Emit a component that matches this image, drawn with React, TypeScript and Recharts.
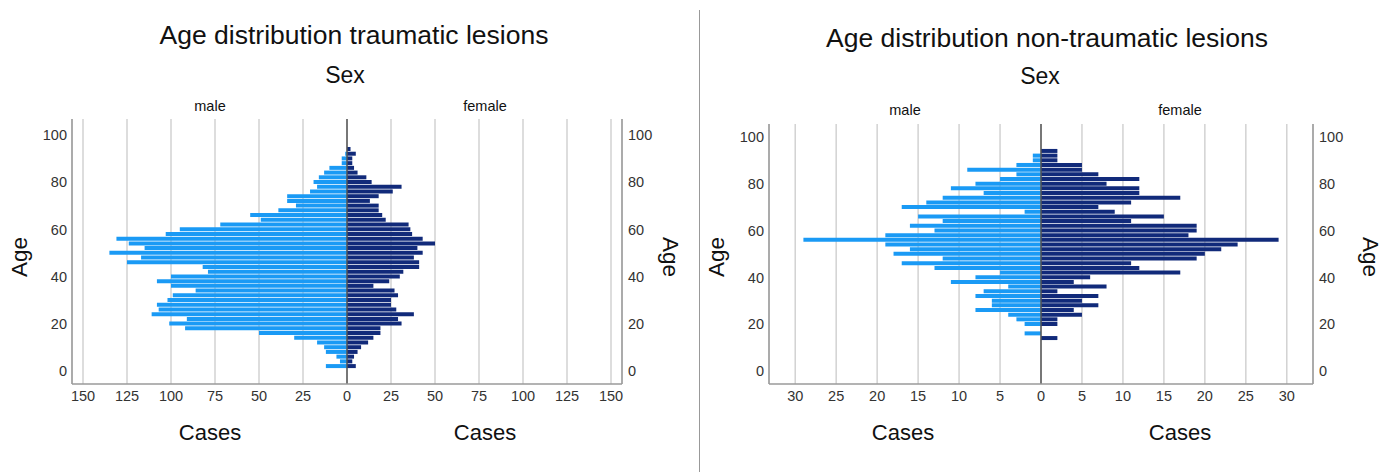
import React from 'react';
import { BarChart, Bar, XAxis, YAxis, CartesianGrid, ReferenceLine } from 'recharts';

// age bins (2-year groups), top to bottom
const ageBins = [94, 92, 90, 88, 86, 84, 82, 80, 78, 76, 74, 72, 70, 68, 66, 64, 62, 60, 58, 56, 54, 52, 50, 48, 46, 44, 42, 40, 38, 36, 34, 32, 30, 28, 26, 24, 22, 20, 18, 16, 14, 12, 10, 8, 6, 4, 2];

const traumaMale = [0, 1, 3, 3, 10, 13, 16, 19, 17, 21, 34, 34, 29, 39, 55, 49, 72, 95, 103, 131, 124, 115, 135, 117, 125, 82, 79, 100, 108, 100, 86, 99, 102, 108, 107, 111, 91, 101, 92, 50, 30, 17, 13, 12, 6, 4, 12];
const traumaFemale = [2, 5, 3, 3, 4, 6, 11, 14, 31, 26, 18, 13, 18, 18, 20, 22, 35, 36, 37, 43, 50, 40, 43, 38, 41, 41, 32, 30, 24, 15, 27, 29, 25, 25, 28, 38, 29, 31, 19, 19, 15, 12, 8, 6, 4, 3, 5];

// non-traumatic: bins 94 .. 14
const nonTraumaMale = [0, 1, 1, 3, 9, 3, 5, 8, 11, 7, 12, 14, 17, 2, 15, 12, 16, 13, 19, 29, 19, 16, 18, 12, 17, 13, 5, 8, 11, 4, 7, 8, 6, 6, 8, 4, 3, 2, 0, 2, 0];
const nonTraumaFemale = [2, 2, 2, 5, 5, 7, 12, 8, 12, 12, 17, 11, 7, 9, 15, 11, 19, 19, 18, 29, 24, 22, 20, 19, 11, 12, 17, 6, 4, 8, 2, 7, 5, 7, 4, 5, 2, 2, 0, 0, 2];

const ageTicks = [0, 20, 40, 60, 80, 100];
const traumaCaseTicks = [-150, -125, -100, -75, -50, -25, 0, 25, 50, 75, 100, 125, 150];
const nonTraumaCaseTicks = [-30, -25, -20, -15, -10, -5, 0, 5, 10, 15, 20, 25, 30];

const MALE = '#1a9af5';
const FEMALE = '#112a7a';
const FONT = '"Liberation Sans", Arial, Helvetica, sans-serif';

function buildRows(male: number[], female: number[]) {
  return male.map((m, i) => ({ age: ageBins[i], male: -m, female: female[i] }));
}

function Txt({ x, y, size, children, rotate = 0, color = '#111' }: any) {
  return (
    <div
      style={{
        position: 'absolute',
        left: x,
        top: y,
        transform: `translate(-50%, -50%) rotate(${rotate}deg)`,
        fontSize: size,
        fontFamily: FONT,
        color,
        whiteSpace: 'nowrap',
        lineHeight: 1,
      }}
    >
      {children}
    </div>
  );
}

interface PyramidProps {
  left: number;
  width: number;
  margin: { top: number; right: number; bottom: number; left: number };
  data: any[];
  xDomain: [number, number];
  xTicks: number[];
  yDomain: [number, number];
}

function Pyramid({ left, width, margin, data, xDomain, xTicks, yDomain }: PyramidProps) {
  const tickStyle = { fill: '#333', fontSize: 14.5, fontFamily: FONT };
  return (
    <div style={{ position: 'absolute', left, top: 0 }}>
      <BarChart
        width={width}
        height={472}
        data={data}
        layout="vertical"
        stackOffset="sign"
        barCategoryGap="3%"
        margin={margin}
      >
        <CartesianGrid horizontal={false} stroke="#d2d2d2" strokeWidth={1.5} yAxisId="left" />
        <XAxis
          type="number"
          domain={xDomain}
          ticks={xTicks}
          allowDataOverflow
          tickFormatter={(v: number) => String(Math.abs(v))}
          tick={tickStyle}
          tickLine={false}
          tickSize={0}
          tickMargin={7}
          height={30}
          axisLine={{ stroke: '#9a9a9a', strokeWidth: 1.5 }}
        />
        <YAxis
          yAxisId="left"
          type="number"
          dataKey="age"
          domain={yDomain}
          ticks={ageTicks}
          reversed
          allowDataOverflow
          tick={tickStyle}
          tickLine={false}
          tickSize={0}
          tickMargin={5}
          width={40}
          axisLine={{ stroke: '#9a9a9a', strokeWidth: 1.5 }}
        />
        <YAxis
          yAxisId="right"
          orientation="right"
          type="number"
          dataKey="age"
          domain={yDomain}
          ticks={ageTicks}
          reversed
          allowDataOverflow
          tick={tickStyle}
          tickLine={false}
          tickSize={0}
          tickMargin={6}
          width={40}
          axisLine={{ stroke: '#9a9a9a', strokeWidth: 1.5 }}
        />
        <Bar dataKey="male" stackId="s" yAxisId="left" fill={MALE} isAnimationActive={false} />
        <Bar dataKey="female" stackId="s" yAxisId="left" fill={FEMALE} isAnimationActive={false} />
        <ReferenceLine x={0} yAxisId="left" stroke="#555" strokeWidth={1.5} />
      </BarChart>
    </div>
  );
}

export default function App() {
  const traumaRows = buildRows(traumaMale, traumaFemale);
  const nonTraumaRows = buildRows(nonTraumaMale, nonTraumaFemale);
  return (
    <div style={{ position: 'absolute', left: 0, top: 0, width: 1389, height: 472, background: '#fff', overflow: 'hidden' }}>
      <Pyramid
        left={0}
        width={700}
        margin={{ top: 119, right: 38, bottom: 58, left: 32 }}
        data={traumaRows}
        xDomain={[-156.25, 156.25]}
        xTicks={traumaCaseTicks}
        yDomain={[-5.5, 106.8]}
      />
      <Pyramid
        left={700}
        width={689}
        margin={{ top: 124, right: 36, bottom: 58, left: 29 }}
        data={nonTraumaRows}
        xDomain={[-33.2, 33.2]}
        xTicks={nonTraumaCaseTicks}
        yDomain={[-5.56, 105.6]}
      />
      <div style={{ position: 'absolute', left: 699, top: 10, width: 1, height: 462, background: '#999' }} />

      <Txt x={354} y={35} size={26.5}>Age distribution traumatic lesions</Txt>
      <Txt x={345} y={75} size={23}>Sex</Txt>
      <Txt x={210} y={106} size={14.5}>male</Txt>
      <Txt x={485} y={106} size={14.5}>female</Txt>
      <Txt x={210} y={433} size={22}>Cases</Txt>
      <Txt x={485} y={433} size={22}>Cases</Txt>
      <Txt x={20} y={257} size={22.5} rotate={-90}>Age</Txt>
      <Txt x={670} y={257} size={22.5} rotate={90}>Age</Txt>

      <Txt x={1047} y={38} size={26.5}>Age distribution non-traumatic lesions</Txt>
      <Txt x={1040} y={76} size={23}>Sex</Txt>
      <Txt x={905} y={110} size={14.5}>male</Txt>
      <Txt x={1180} y={110} size={14.5}>female</Txt>
      <Txt x={903} y={433} size={22}>Cases</Txt>
      <Txt x={1180} y={433} size={22}>Cases</Txt>
      <Txt x={717} y={257} size={22.5} rotate={-90}>Age</Txt>
      <Txt x={1370} y={257} size={22.5} rotate={90}>Age</Txt>
    </div>
  );
}
